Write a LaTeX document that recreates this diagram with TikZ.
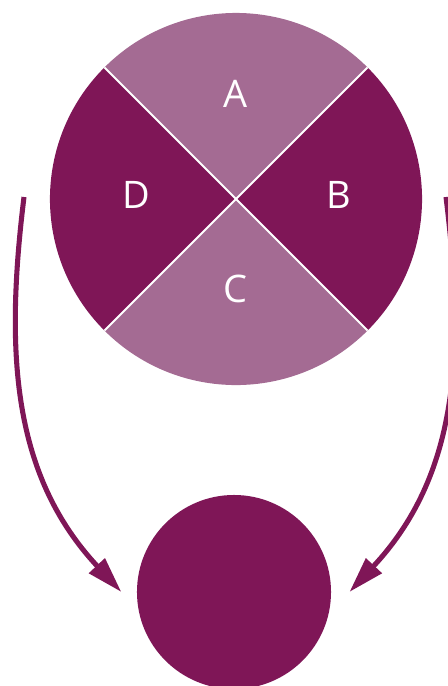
\documentclass[tikz,border=0pt]{standalone}
\usepackage{fontspec}
\newfontfamily\labelfont{Open Sans}
\usetikzlibrary{arrows.meta}
\definecolor{plum}{RGB}{127,22,87}
\definecolor{softplum}{RGB}{164,107,147}
\tikzset{
  disc/.style={circle, inner sep=0pt, outer sep=0pt},
  divider/.style={draw=white, line width=1.4pt},
  letter/.style={text=white, inner sep=0pt, font=\labelfont\fontsize{27}{32}\selectfont},
  bigarrow/.style={-{Triangle[length=0.9cm, width=0.52cm]}, line width=3.6pt, draw=plum}
}

\begin{document}
\begin{tikzpicture}[x=0.025cm, y=0.025cm]
  \useasboundingbox (0,0) rectangle (448,-686);
  \node[disc, minimum size=9.3cm] (wheel) at (236,-199) {};
  \node[disc, minimum size=4.85cm, fill=plum] (goal) at (234,-592) {};
  % four quarters of the wheel
  \foreach \a/\col in {90/softplum, 0/plum, -90/softplum, 180/plum}
    \fill[\col] (wheel.center) -- ++(\a-45:4.65cm)
      arc[start angle=\a-45, end angle=\a+45, radius=4.65cm] -- cycle;
  \draw[divider] (wheel.45) -- (wheel.225);
  \draw[divider] (wheel.135) -- (wheel.-45);
  \node[letter] (qa) at (236,-94) {A};
  \node[letter] (qb) at (339,-195) {B};
  \node[letter] (qc) at (235,-289) {C};
  \node[letter] (qd) at (136,-195) {D};
  % arrows down to the small disc
  \coordinate (lstart) at (24,-197);
  \coordinate (rstart) at (446,-197);
  \draw[bigarrow] (lstart) to[out=-97, in=133] ([xshift=-0.39cm]goal.west);
  \draw[bigarrow] (rstart) to[out=-83, in=47] ([xshift=0.46cm]goal.east);
\end{tikzpicture}
\end{document}
